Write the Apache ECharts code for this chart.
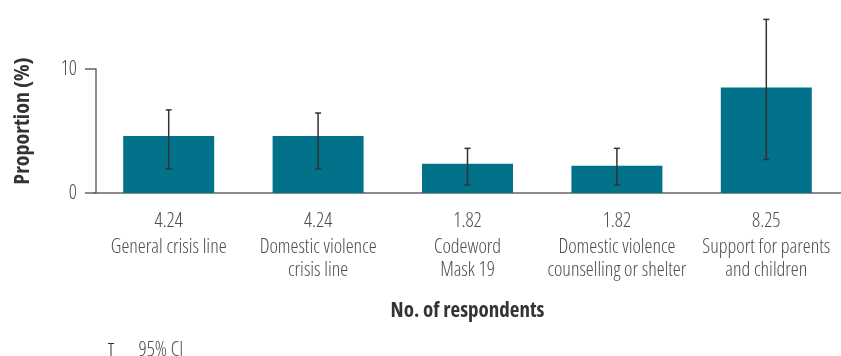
<!DOCTYPE html>
<html>
<head>
<meta charset="utf-8">
<script src="https://cdn.jsdelivr.net/npm/echarts@6/dist/echarts.min.js"></script>
<style>
  html, body { margin: 0; padding: 0; background: #fff; }
  #chart { width: 841px; height: 356px; }
</style>
</head>
<body>
<div id="chart"></div>
<script>
// Help services: proportion of respondents (%) with 95% confidence intervals
const categories = [
  'General crisis line',
  'Domestic violence\ncrisis line',
  'Codeword\nMask 19',
  'Domestic violence\ncounselling or shelter',
  'Support for parents\nand children'
];
const respondents = ['4.24', '4.24', '1.82', '1.82', '8.25'];
const proportion = [4.6, 4.6, 2.35, 2.2, 8.5];
const ciLower = [1.95, 1.95, 0.65, 0.65, 2.7];
const ciUpper = [6.7, 6.45, 3.6, 3.6, 14.0];
const yTicks = [0, 10];

// Open Sans is a variable font; the width axis gives a condensed cut
const FONT = '"Open Sans", sans-serif';
const LIGHT = '300 condensed';
const BOLD = 'bold condensed';
const TEXT = '#4d4d4d';
const AXIS = '#666';

const chart = echarts.init(document.getElementById('chart'), null, { renderer: 'canvas' });

chart.setOption({
  animation: false,
  grid: { left: 94, top: 69, width: 753, height: 124, containLabel: false },
  legend: {
    data: ['95% CI'],
    left: 108,
    top: 340,
    padding: 0,
    icon: 'path://M0,0H6V1H3.5V13H6V14H0V13H2.5V1H0Z',
    itemWidth: 7,
    itemHeight: 14,
    textStyle: { fontFamily: FONT, fontWeight: LIGHT, fontSize: 20, color: TEXT, padding: [0, 0, 0, 19] }
  },
  graphic: [{
    type: 'text',
    x: 23,
    y: 121,
    rotation: Math.PI / 2,
    style: {
      text: 'Proportion (%)',
      font: BOLD + ' 22px ' + FONT,
      fill: '#333',
      align: 'center',
      verticalAlign: 'middle'
    }
  }],
  xAxis: {
    type: 'category',
    data: categories,
    name: 'No. of respondents',
    nameLocation: 'middle',
    nameGap: 108,
    nameTextStyle: { fontFamily: FONT, fontSize: 21, fontWeight: BOLD, color: '#333' },
    axisLine: { lineStyle: { color: AXIS, width: 1.5 } },
    axisTick: { alignWithLabel: true, length: 10, lineStyle: { color: AXIS, width: 1.5 } },
    axisLabel: {
      interval: 0,
      margin: 13,
      formatter: function (value, index) {
        const lines = value.split('\n').map(function (l) { return '{c|' + l + '}'; });
        return '{n|' + respondents[index] + '}\n' + lines.join('\n');
      },
      rich: {
        n: { fontFamily: FONT, fontWeight: LIGHT, fontSize: 20, color: TEXT, lineHeight: 30 },
        c: { fontFamily: FONT, fontWeight: LIGHT, fontSize: 20, color: TEXT, lineHeight: 23 }
      }
    },
    splitLine: { show: false }
  },
  yAxis: {
    type: 'value',
    min: yTicks[0],
    max: yTicks[yTicks.length - 1],
    interval: yTicks[1] - yTicks[0],
    offset: -2,
    axisLine: { show: true, lineStyle: { color: AXIS, width: 1.5 } },
    axisTick: { show: true, length: 11, lineStyle: { color: AXIS, width: 1.5 } },
    axisLabel: { margin: 19, fontFamily: FONT, fontWeight: LIGHT, fontSize: 20, color: TEXT },
    splitLine: { show: false }
  },
  series: [
    {
      name: 'Proportion',
      type: 'bar',
      data: proportion,
      barWidth: 91,
      itemStyle: { color: '#02728a' },
      z: 2
    },
    {
      name: '95% CI',
      type: 'custom',
      clip: false,
      z: 3,
      itemStyle: { color: '#333' },
      data: categories.map(function (c, i) { return [i, ciLower[i], ciUpper[i]]; }),
      encode: { x: 0, y: [1, 2] },
      renderItem: function (params, api) {
        const lo = api.coord([api.value(0), api.value(1)]);
        const hi = api.coord([api.value(0), api.value(2)]);
        const cap = 3;
        const style = { stroke: '#333', lineWidth: 1.5, fill: null };
        return {
          type: 'group',
          children: [
            { type: 'line', shape: { x1: lo[0], y1: lo[1], x2: hi[0], y2: hi[1] }, style: style },
            { type: 'line', shape: { x1: hi[0] - cap, y1: hi[1], x2: hi[0] + cap, y2: hi[1] }, style: style },
            { type: 'line', shape: { x1: lo[0] - cap, y1: lo[1], x2: lo[0] + cap, y2: lo[1] }, style: style }
          ]
        };
      }
    }
  ]
});
</script>
</body>
</html>
